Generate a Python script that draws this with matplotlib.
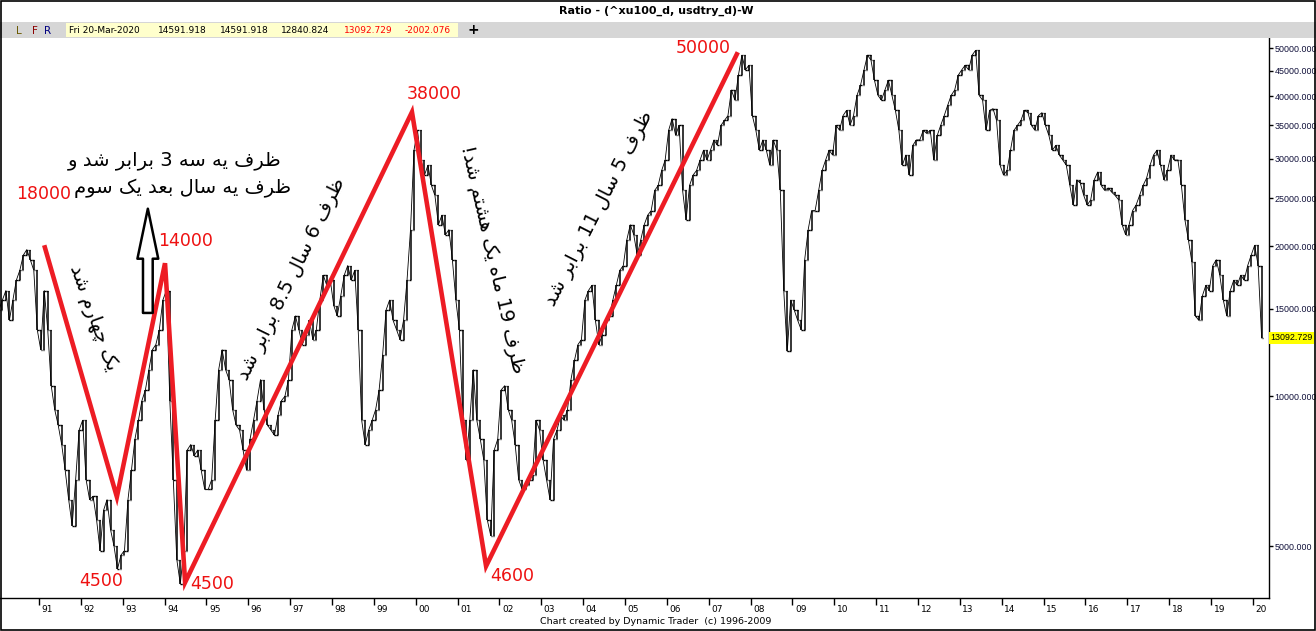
import re
import numpy as np
import matplotlib
matplotlib.use('Agg')
import matplotlib.pyplot as plt
from matplotlib.patches import Rectangle
from matplotlib.ticker import NullLocator

# monthly closes of the XU100 / USDTRY ratio, Jan 1990 .. Mar 2020
ratio_close = [
    14900, 15600, 16300, 14200, 15600, 17100, 17900, 19200, 19700, 18800, 17900, 13600,  # 1990
    12400, 16300, 13600, 10500, 9400, 8750, 8000, 7100, 6200, 5500, 6800, 8550,  # 1991
    8950, 6800, 6200, 6300, 5650, 4900, 5900, 6200, 5400, 5000, 4500, 4800,  # 1992
    4900, 6200, 7100, 8200, 8950, 9800, 10300, 11300, 12400, 12700, 13600, 15600,  # 1993
    16300, 9800, 6800, 4700, 4200, 4900, 7800, 8000, 7600, 7800, 7100, 6500,  # 1994
    6500, 6800, 8950, 11300, 12400, 11300, 10800, 9400, 8750, 8550, 7800, 7100,  # 1995
    8200, 8950, 9800, 10800, 9400, 8750, 8550, 8350, 9150, 9800, 10000, 10800,  # 1996
    13600, 14500, 13600, 12700, 13300, 14200, 13000, 13600, 15600, 17500, 16700, 17100,  # 1997
    15200, 14500, 15900, 17500, 18300, 17100, 17900, 13600, 8950, 8000, 8550, 8950,  # 1998
    9400, 10300, 12100, 14900, 15600, 14200, 13600, 13000, 14200, 17100, 21600, 31200,  # 1999
    34200, 29800, 27800, 29100, 26500, 25300, 22100, 23100, 21100, 21600, 18800, 15600,  # 2000
    13600, 8950, 7450, 8950, 11300, 8950, 8200, 7450, 5650, 5250, 7800, 8200,  # 2001
    10300, 10500, 9400, 8950, 8000, 6800, 6500, 6650, 6800, 6950, 8950, 8550,  # 2002
    7450, 6800, 6200, 8200, 8550, 9150, 8950, 9400, 10800, 11800, 12700, 13000,  # 2003
    15600, 16300, 16700, 14200, 12700, 13300, 14200, 14500, 15600, 16700, 17900, 18300,  # 2004
    20600, 22100, 21100, 19200, 20600, 22100, 23100, 23600, 25900, 26500, 28400, 29800,  # 2005
    34200, 36100, 33400, 35000, 25900, 22600, 26500, 27800, 28400, 29800, 31200, 29800,  # 2006
    31200, 32700, 31900, 35000, 35800, 36600, 41200, 39300, 44100, 48400, 45200, 46200,  # 2007
    36600, 34200, 31200, 32700, 31200, 29100, 32700, 31200, 25900, 16300, 12300, 15600,  # 2008
    14900, 14200, 13600, 18800, 21600, 23600, 23600, 25900, 28400, 29800, 31200, 30500,  # 2009
    35000, 34200, 36600, 37500, 35000, 36600, 40200, 42100, 45200, 48400, 47300, 43100,  # 2010
    40200, 39300, 41200, 43100, 40200, 37500, 34200, 29100, 30500, 27800, 31900, 32700,  # 2011
    32700, 34200, 33700, 34200, 29800, 33400, 35000, 36600, 38400, 40200, 41200, 44100,  # 2012
    45200, 46200, 45200, 48400, 49500, 40200, 39300, 34200, 37500, 37800, 35800, 29100,  # 2013
    27800, 28400, 31200, 34200, 35000, 35800, 37500, 37100, 35000, 34200, 36600, 37100,  # 2014
    35000, 33400, 31200, 31900, 30500, 29800, 29100, 26500, 24200, 27200, 26800, 25300,  # 2015
    24200, 24800, 27200, 28200, 26500, 25900, 26200, 25700, 25300, 24800, 22100, 21100,  # 2016
    22100, 23600, 24200, 25300, 26500, 27400, 29100, 30500, 31200, 29100, 27200, 28400,  # 2017
    30500, 29800, 29800, 26500, 22600, 20600, 18600, 14500, 14200, 15900, 16700, 16300,  # 2018
    18300, 18800, 17500, 15600, 14500, 16300, 17100, 16700, 17500, 17100, 18300, 19200,  # 2019
    20100, 18300, 13092.729,  # 2020
]

# hand drawn zigzag (decimal year, ratio)
zig_years = [1991.14, 1992.86, 1994.01, 1994.49, 1999.91, 2001.68, 2007.67]
zig_values = [19900, 6280, 18500, 4230, 37200, 4560, 48600]

# red figures written next to the zigzag
turn_labels = ['18000', '4500', '14000', '4500', '38000', '4600', '50000']
turn_years = [1991.10, 1992.48, 1994.49, 1995.13, 2000.44, 2002.30, 2006.86]
turn_values = [25500, 4250, 20500, 4200, 40500, 4350, 50000]

price_ticks = [5000, 10000, 15000, 20000, 25000, 30000, 35000, 40000, 45000, 50000]
years = list(range(1991, 2021))

header_vals = ['14591.918', '14591.918', '12840.824']
last_close = 13092.729
last_change = -2002.076

######## persian text helpers (no shaping engine in matplotlib) ########

FORMS = {
    'ا': ('\uFE8D', '\uFE8E'),
    'ب': ('\uFE8F', '\uFE90', '\uFE91', '\uFE92'),
    'ت': ('\uFE95', '\uFE96', '\uFE97', '\uFE98'),
    'چ': ('\uFB7A', '\uFB7B', '\uFB7C', '\uFB7D'),
    'د': ('\uFEA9', '\uFEAA'),
    'ر': ('\uFEAD', '\uFEAE'),
    'س': ('\uFEB1', '\uFEB2', '\uFEB3', '\uFEB4'),
    'ش': ('\uFEB5', '\uFEB6', '\uFEB7', '\uFEB8'),
    'ظ': ('\uFEC5', '\uFEC6', '\uFEC7', '\uFEC8'),
    'ع': ('\uFEC9', '\uFECA', '\uFECB', '\uFECC'),
    'ف': ('\uFED1', '\uFED2', '\uFED3', '\uFED4'),
    'ک': ('\uFB8E', '\uFB8F', '\uFB90', '\uFB91'),
    'ل': ('\uFEDD', '\uFEDE', '\uFEDF', '\uFEE0'),
    'م': ('\uFEE1', '\uFEE2', '\uFEE3', '\uFEE4'),
    'ه': ('\uFEE9', '\uFEEA', '\uFEEB', '\uFEEC'),
    'و': ('\uFEED', '\uFEEE'),
    'ی': ('\uFBFC', '\uFBFD', '\uFBFE', '\uFBFF'),
}


def fa(s):
    '''Join persian letters and put the string in visual (left to right) order.'''
    out = []
    for i, ch in enumerate(s):
        f = FORMS.get(ch)
        if f is None:
            out.append(ch)
            continue
        prev = s[i - 1] if i > 0 else ''
        nxt = s[i + 1] if i + 1 < len(s) else ''
        join_prev = prev in FORMS and len(FORMS[prev]) == 4
        join_next = len(f) == 4 and nxt in FORMS
        if join_prev and join_next:
            out.append(f[3])
        elif join_prev:
            out.append(f[1])
        elif join_next:
            out.append(f[2])
        else:
            out.append(f[0])
    runs = re.findall(r'[0-9.]+|[^0-9.]+', ''.join(out))
    return ''.join(r if r[0].isdigit() else r[::-1] for r in reversed(runs))


######## figure ########

W, H = 1316, 631
fig = plt.figure(figsize=(W / 100, H / 100), dpi=100)
fig.patch.set_facecolor('white')

ax = fig.add_axes([0, 33 / H, 1269 / W, 560 / H])
ax.set_yscale('log')
ax.set_xlim(1990.068, 2020.384)
ax.set_ylim(3935, 52400)

# bar style: each month runs from the previous close (open tick left) to the close (tick right)
t = 1990 + (np.arange(len(ratio_close)) + 0.5) / 12
close = np.array(ratio_close, dtype=float)
opn = np.concatenate([[close[0]], close[:-1]])
tick = 0.035
ax.vlines(t, np.minimum(opn, close), np.maximum(opn, close), color='black', lw=1.1)
ax.hlines(opn, t - tick, t, color='black', lw=1.0)
ax.hlines(close, t, t + tick, color='black', lw=1.0)
ax.plot(t, close, color='black', lw=0.6)

# zigzag + turning point labels
ax.plot(zig_years, zig_values, color='#ed1c24', lw=3.3, solid_joinstyle='miter', zorder=4)
for lab, yr, v in zip(turn_labels, turn_years, turn_values):
    ax.text(yr, v, lab, color='#ee1111', fontsize=12.5, ha='center', va='center', zorder=5)

# hollow up arrow
ax.annotate('', xy=(1993.60, 23800), xytext=(1993.60, 14700),
            arrowprops=dict(arrowstyle='simple,head_length=1.8,head_width=0.75,tail_width=0.35',
                            fc='white', ec='black', lw=1.8, shrinkA=0, shrinkB=0,
                            mutation_scale=20), zorder=6)

# persian notes
txt = dict(color='black', fontsize=14, family=['DejaVu Sans'], ha='center', va='center',
           rotation_mode='anchor', zorder=6)
ax.text(1994.23, 29800, fa('ظرف یه سه 3 برابر شد و'), **txt)
ax.text(1994.42, 26150, fa('ظرف یه سال بعد یک سوم'), **txt)
ax.text(1992.29, 14400, fa('یک چهارم شد'), rotation=-70, **txt)
ax.text(1997.02, 17250, fa('ظرف 6 سال 8.5 برابر شد'), rotation=64, **txt)
ax.text(2001.82, 18800, fa('ظرف 19 ماه یک هشتم شد!'), rotation=-77, **txt)
ax.text(2004.38, 23800, fa('ظرف 5 سال 11 برابر شد'), rotation=63, **txt)

# axes look
for side in ['left', 'top']:
    ax.spines[side].set_visible(False)
for side in ['right', 'bottom']:
    ax.spines[side].set_linewidth(1.0)

ax.yaxis.set_ticks_position('right')
ax.set_yticks(price_ticks)
ax.set_yticklabels([f'{v:.3f}' for v in price_ticks], family='Liberation Sans')
ax.yaxis.set_minor_locator(NullLocator())
ax.tick_params(axis='y', length=3, width=1, pad=1, labelsize=6.4, labelcolor='#10103a')

ax.set_xticks(years)
ax.set_xticklabels([])
ax.tick_params(axis='x', length=5, width=1, direction='out')
for yr in years:
    ax.text(yr + 0.06, -0.012, f'{yr % 100:02d}', transform=ax.get_xaxis_transform(),
            ha='left', va='top', fontsize=6.5)

# last price flag on the right scale
ax.text(1 + 1.5 / 1269, last_close, f'{last_close:.3f}', transform=ax.get_yaxis_transform(),
        ha='left', va='center', fontsize=6.4, family='Liberation Sans', color='black',
        bbox=dict(boxstyle='square,pad=0.15', fc='#ffff00', ec='none'), clip_on=False)

######## header / footer ########

fig.text(656 / W, 1 - 11 / H, 'Ratio - (^xu100_d, usdtry_d)-W', ha='center', va='center',
         fontsize=8, weight='bold')
fig.add_artist(Rectangle((0, 1 - 38 / H), 1, 16 / H, transform=fig.transFigure,
                         fc='#d6d6d6', ec='none'))
fig.add_artist(Rectangle((66 / W, 1 - 37 / H), 392 / W, 14 / H, transform=fig.transFigure,
                         fc='#ffffcc', ec='none'))
hy = 1 - 30.5 / H
for lab, x, c in [('L', 19, '#6b5a00'), ('F', 35, '#8b0000'), ('R', 48, '#000080')]:
    fig.text(x / W, hy, lab, ha='center', va='center', fontsize=7.5, color=c)
fig.text(69 / W, hy, 'Fri 20-Mar-2020', ha='left', va='center', fontsize=6.5)
for lab, x in zip(header_vals, [158, 220, 281]):
    fig.text(x / W, hy, lab, ha='left', va='center', fontsize=6.5)
fig.text(344 / W, hy, f'{last_close:.3f}', ha='left', va='center', fontsize=6.5, color='red')
fig.text(405 / W, hy, f'{last_change:.3f}', ha='left', va='center', fontsize=6.5, color='red')
fig.text(473 / W, hy, '+', ha='center', va='center', fontsize=10, weight='bold')

fig.text(656 / W, 1 - 622 / H, 'Chart created by Dynamic Trader  (c) 1996-2009',
         ha='center', va='center', fontsize=6.8)

fig.add_artist(Rectangle((0.0005, 0.001), 0.999, 0.998, transform=fig.transFigure,
                         fill=False, ec='black', lw=1.2))

fig.savefig('out.png', dpi=100)
